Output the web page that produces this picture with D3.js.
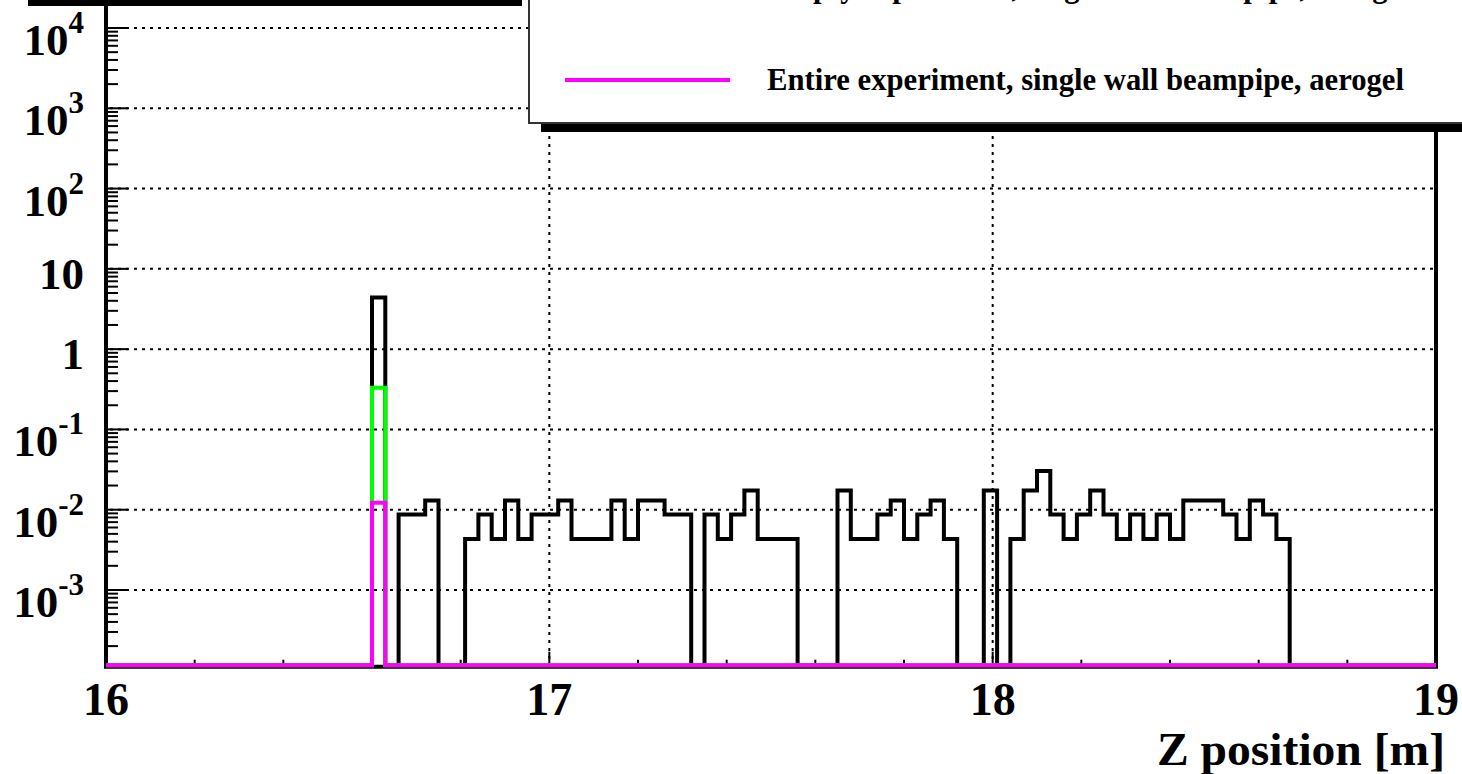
<!DOCTYPE html>
<html><head><meta charset="utf-8">
<script src="https://cdn.jsdelivr.net/npm/d3@7"></script>
<style>html,body{margin:0;padding:0;background:#fff;} svg{display:block;}</style>
</head><body>
<svg id="c" width="1462" height="774"></svg>
<script>
// ---- data ----
const binLow = 16, binWidth = 0.03;
const blackValues = [
  0,0,0,0,0,0,0,0,0,0,
  0,0,0,0,0,0,0,0,0,0,
  4.4,0,0.0087,0.0087,0.013,0,0,0.0043,0.0087,0.0043,
  0.013,0.0043,0.0087,0.0087,0.013,0.0043,0.0043,0.0043,0.013,0.0043,
  0.013,0.013,0.0087,0.0087,0,0.0087,0.0043,0.0087,0.0174,0.0043,
  0.0043,0.0043,0,0,0,0.0174,0.0043,0.0043,0.0087,0.013,
  0.0043,0.0087,0.013,0.0043,0,0,0.0174,0,0.0043,0.0174,
  0.0304,0.0087,0.0043,0.0087,0.0174,0.0087,0.0043,0.0087,0.0043,0.0087,
  0.0043,0.013,0.013,0.013,0.0087,0.0043,0.013,0.0087,0.0043,0,
  0,0,0,0,0,0,0,0,0,0
];
const greenValues = [
  0,0,0,0,0,0,0,0,0,0,
  0,0,0,0,0,0,0,0,0,0,
  0.33,0,0,0,0,0,0,0,0,0,
  0,0,0,0,0,0,0,0,0,0,
  0,0,0,0,0,0,0,0,0,0,
  0,0,0,0,0,0,0,0,0,0,
  0,0,0,0,0,0,0,0,0,0,
  0,0,0,0,0,0,0,0,0,0,
  0,0,0,0,0,0,0,0,0,0,
  0,0,0,0,0,0,0,0,0,0
];
const magentaValues = [
  0,0,0,0,0,0,0,0,0,0,
  0,0,0,0,0,0,0,0,0,0,
  0.0122,0,0,0,0,0,0,0,0,0,
  0,0,0,0,0,0,0,0,0,0,
  0,0,0,0,0,0,0,0,0,0,
  0,0,0,0,0,0,0,0,0,0,
  0,0,0,0,0,0,0,0,0,0,
  0,0,0,0,0,0,0,0,0,0,
  0,0,0,0,0,0,0,0,0,0,
  0,0,0,0,0,0,0,0,0,0
];
const xRange = [16, 19];
const xMajorTicks = [16, 17, 18, 19];
const xGridTicks = [17, 18];
const yRange = [1.153e-4, 2.364e4];
const yDecades = [-3, -2, -1, 0, 1, 2, 3, 4];
const xTitle = "Z position [m]";
const legendLabels = ["Empty experiment, single wall beampipe, aerogel",
                      "Entire experiment, single wall beampipe, aerogel"];
const legendColors = ["#00ff00", "#ff00ff"];

// ---- layout ----
const FONT = "'Liberation Serif', 'Times New Roman', serif";
const svg = d3.select("#c");
const x = d3.scaleLinear().domain(xRange).range([106, 1436]);
const y = d3.scaleLog().domain(yRange).range([665.3, -2]);
const frameBottom = 666.7;

// frame
svg.append("path")
  .attr("d", `M106,-10 L106,${frameBottom} L1436,${frameBottom} L1436,-10`)
  .attr("fill", "none").attr("stroke", "#000").attr("stroke-width", 4)
  .attr("stroke-linejoin", "miter");

// grid
const grid = svg.append("g").attr("stroke", "#000").attr("stroke-width", 2)
  .attr("stroke-dasharray", "3 5").attr("fill", "none");
yDecades.forEach(k => {
  const yy = y(Math.pow(10, k));
  grid.append("line").attr("x1", 110).attr("x2", 1434).attr("y1", yy).attr("y2", yy);
});
xGridTicks.forEach(t => {
  grid.append("line").attr("x1", x(t)).attr("x2", x(t)).attr("y1", 0).attr("y2", 664);
});

// y ticks
const ticks = svg.append("g").attr("stroke", "#000").attr("stroke-width", 2);
for (let k = -4; k <= 4; k++) {
  for (let m = 1; m <= 9; m++) {
    const v = m * Math.pow(10, k);
    if (v < yRange[0] || v > yRange[1]) continue;
    const yy = y(v);
    const len = m === 1 ? 20 : 10;
    ticks.append("line").attr("x1", 108).attr("x2", 108 + len).attr("y1", yy).attr("y2", yy);
  }
}
// x ticks
for (let i = 0; i <= 15; i++) {
  const t = xRange[0] + i * 0.2;
  const major = xMajorTicks.some(d => Math.abs(d - t) < 1e-6);
  const xx = x(t);
  ticks.append("line").attr("x1", xx).attr("x2", xx)
    .attr("y1", frameBottom - 2).attr("y2", frameBottom - 2 - (major ? 13 : 5));
}

// histograms
function histPath(values) {
  const pts = [[x(binLow), y(yRange[0])]];
  values.forEach((v, i) => {
    const yy = v > 0 ? y(v) : y(yRange[0]);
    pts.push([x(binLow + i * binWidth), yy]);
    pts.push([x(binLow + (i + 1) * binWidth), yy]);
  });
  pts.push([x(binLow + values.length * binWidth), y(yRange[0])]);
  return d3.line()(pts);
}
[[blackValues, "#000000"], [greenValues, "#00ff00"], [magentaValues, "#ff00ff"]].forEach(([vals, col]) => {
  svg.append("path").attr("d", histPath(vals)).attr("fill", "none")
    .attr("stroke", col).attr("stroke-width", 4).attr("stroke-linejoin", "miter")
    .attr("stroke-linecap", "butt");
});

// y labels
yDecades.forEach(k => {
  const yy = y(Math.pow(10, k));
  const t = svg.append("text").attr("x", 84).attr("text-anchor", "end")
    .attr("font-family", FONT).attr("font-weight", "bold").attr("font-size", 45);
  if (k === 0 || k === 1) {
    t.attr("y", yy + 20).text(k === 0 ? "1" : "10");
  } else {
    t.attr("y", yy + 27);
    t.append("tspan").text("10");
    t.append("tspan").attr("font-size", 31).attr("dy", -22).text(k < 0 ? "-" + (-k) : String(k));
  }
});

// x labels
xMajorTicks.forEach(tk => {
  svg.append("text").attr("x", x(tk)).attr("y", 715).attr("text-anchor", "middle")
    .attr("font-family", FONT).attr("font-weight", "bold").attr("font-size", 46)
    .text(String(tk));
});
svg.append("text").attr("x", 1445).attr("y", 765).attr("text-anchor", "end")
  .attr("font-family", FONT).attr("font-weight", "bold").attr("font-size", 46)
  .attr("textLength", 288).attr("lengthAdjust", "spacingAndGlyphs")
  .text(xTitle);

// top-left pave shadow
svg.append("rect").attr("x", 28).attr("y", -4).attr("width", 494).attr("height", 10).attr("fill", "#000");

// legend
svg.append("rect").attr("x", 541).attr("y", -200).attr("width", 1000).attr("height", 332).attr("fill", "#000");
svg.append("rect").attr("x", 529).attr("y", -210).attr("width", 1000).attr("height", 333)
  .attr("fill", "#fff").attr("stroke", "#333").attr("stroke-width", 2);
const entryGap = 93, lastBase = 90;
const labelNodes = [];
legendLabels.forEach((lab, i) => {
  const base = lastBase - (legendLabels.length - 1 - i) * entryGap;
  svg.append("line").attr("x1", 565).attr("x2", 730).attr("y1", base - 10).attr("y2", base - 10)
    .attr("stroke", legendColors[i]).attr("stroke-width", 4);
  const t = svg.append("text").attr("x", 767).attr("y", base)
    .attr("font-family", FONT).attr("font-weight", "bold").attr("font-size", 32).text(lab);
  labelNodes.push(t);
});
const refW = labelNodes[labelNodes.length - 1].node().getComputedTextLength();
const k = 637 / refW;
labelNodes.forEach(t => {
  const w = t.node().getComputedTextLength();
  t.attr("textLength", w * k).attr("lengthAdjust", "spacingAndGlyphs");
});
</script>
</body></html>
